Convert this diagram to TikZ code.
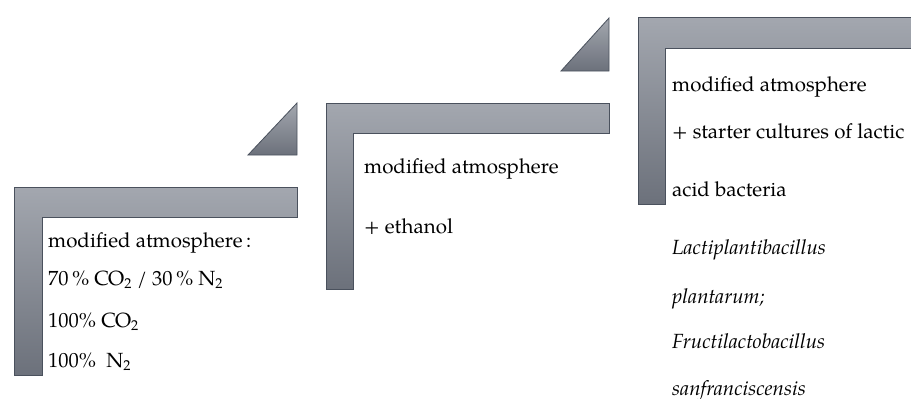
\documentclass[tikz,border=0pt]{standalone}
\usepackage{fontspec}
\setmainfont{TeX Gyre Pagella}
\begin{document}
\begin{tikzpicture}[x=1pt,y=-1pt,
  bar/.style={top color=barTop,bottom color=barBot,draw=barEdge,line width=0.8pt},
  txt/.style={anchor=base west,inner sep=0pt,font=\fontsize{20.5}{24}\selectfont,text=black}]
\definecolor{barTop}{HTML}{A3A7AF}
\definecolor{barBot}{HTML}{6C717B}
\definecolor{barEdge}{HTML}{4A515D}
\useasboundingbox (0,0) rectangle (911,399);
% step 1
\path[bar] (14,187) -- (297,187) -- (297,217) -- (42,217) -- (42,375) -- (14,375) -- cycle;
\path[bar] (297,103) -- (297,155) -- (248,155) -- cycle;
% step 2
\path[bar] (326,103) -- (609,103) -- (609,133) -- (353,133) -- (353,289) -- (326,289) -- cycle;
\path[bar] (609,18) -- (609,71) -- (561,71) -- cycle;
% step 3
\path[bar] (638,17) -- (916,17) -- (916,48) -- (665,48) -- (665,204) -- (638,204) -- cycle;
% texts
\node[txt] (a1) at (48,247) {modified atmosphere\,:};
\node[txt] (a2) at (48,285) {70\,\% CO\textsubscript{2} / 30\,\% N\textsubscript{2}};
\node[txt] (a3) at (48,327) {100\% CO\textsubscript{2}};
\node[txt] (a4) at (48,367) {100\%~ N\textsubscript{2}};
\node[txt] (b1) at (364,173) {modified atmosphere};
\node[txt] (b2) at (364,233) {+ ethanol};
\node[txt] (c1) at (672,91) {modified atmosphere};
\node[txt] (c2) at (672,138) {+ starter cultures of lactic};
\node[txt] (c3) at (672,196) {acid bacteria};
\node[txt] (c4) at (672,254) {\itshape Lactiplantibacillus};
\node[txt] (c5) at (672,303) {\itshape plantarum;};
\node[txt] (c6) at (672,348) {\itshape Fructilactobacillus};
\node[txt] (c7) at (672,395) {\itshape sanfranciscensis};
\end{tikzpicture}
\end{document}
